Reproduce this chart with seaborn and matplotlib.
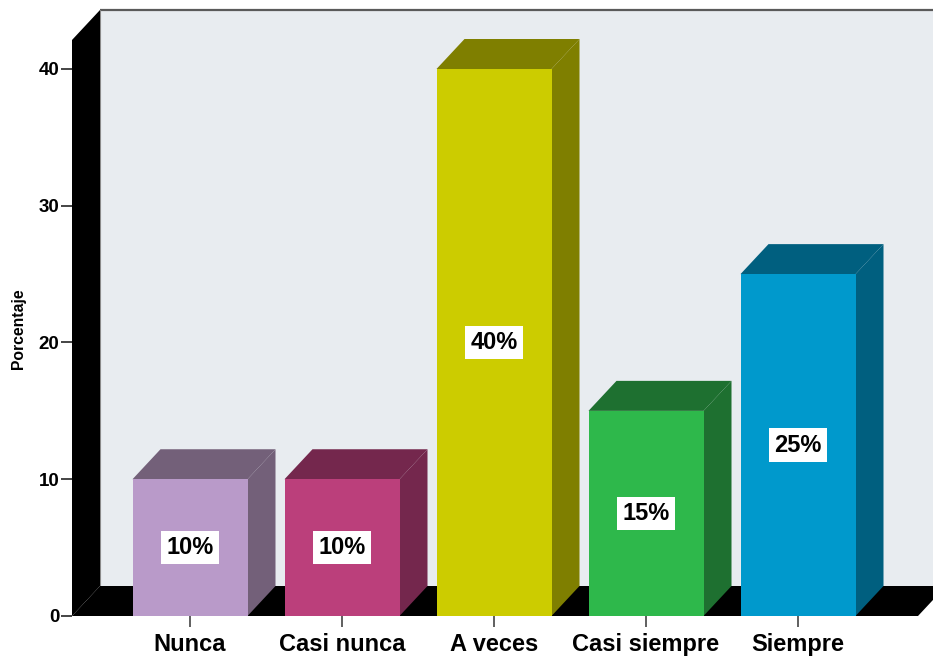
import matplotlib
matplotlib.use("Agg")
import matplotlib.pyplot as plt
from matplotlib.patches import Polygon, Rectangle
import seaborn as sns

# Survey responses (percent of respondents)
categories = ["Nunca", "Casi nunca", "A veces", "Casi siempre", "Siempre"]
values = [10, 10, 40, 15, 25]
value_labels = ["10%", "10%", "40%", "15%", "25%"]
front_colors = ["#B99AC9", "#BB3F7B", "#CCCC00", "#2EB84B", "#0099CC"]
shade_colors = ["#736079", "#74274D", "#7F7F00", "#1E7030", "#005F7F"]
y_ticks = [0, 10, 20, 30, 40]

sns.set_style("white")
plt.rcParams["font.family"] = ["Liberation Sans", "DejaVu Sans"]
plt.rcParams["text.color"] = "black"
plt.rcParams["xtick.color"] = "black"
plt.rcParams["ytick.color"] = "black"

W, H = 933, 656
fig = plt.figure(figsize=(W / 100, H / 100), dpi=100)
fig.patch.set_facecolor("white")

# axes placement in pixels: left edge of the plot frame and baseline
px_left, px_top, px_base = 72, 10, 616
ax = fig.add_axes([px_left / W, (H - px_base) / H, (W - px_left) / W, (px_base - px_top) / H])
ax.set_facecolor("white")

px_per_unit_y = 13.675
px_per_cat = 152.0
x0_px = 190.0
xmin = (px_left - x0_px) / px_per_cat
xmax = (W - x0_px) / px_per_cat
ymax = (px_base - px_top) / px_per_unit_y

# 3-D depth offset
dx = 28 / px_per_cat
dy = 30 / px_per_unit_y

# front faces
bar_w = 115 / px_per_cat
sns.barplot(x=categories, y=values, hue=categories, palette=front_colors,
            width=bar_w, legend=False, ax=ax, zorder=3, saturation=1,
            edgecolor="none")
bars = [p for c in ax.containers for p in c]

ax.set_xlim(xmin, xmax)
ax.set_ylim(0, ymax)

# back wall
ax.add_patch(Rectangle((xmin + dx, dy), xmax - xmin + 1, ymax - dy,
                       facecolor="#E8ECF0", edgecolor="none", zorder=0))
ax.plot([xmin + dx, xmax + 1], [ymax, ymax], color="#5A5A5A", lw=1.6,
        zorder=1, clip_on=False, solid_capstyle="butt")
ax.plot([xmin + dx, xmin + dx], [dy, ymax], color="#8A8A8A", lw=0.8, zorder=1)

# side wall and floor
ax.add_patch(Polygon([(xmin, 0), (xmin, ymax - dy), (xmin + dx, ymax), (xmin + dx, dy)],
                     closed=True, facecolor="black", edgecolor="none", zorder=1))
floor_end = (918 - x0_px) / px_per_cat
ax.add_patch(Polygon([(xmin, 0), (floor_end, 0), (floor_end + dx, dy), (xmin + dx, dy)],
                     closed=True, facecolor="black", edgecolor="none", zorder=1))

for i, p in enumerate(bars):
    x, w, h = p.get_x(), p.get_width(), p.get_height()
    top = [(x, h), (x + dx, h + dy), (x + w + dx, h + dy), (x + w, h)]
    side = [(x + w, 0), (x + w + dx, dy), (x + w + dx, h + dy), (x + w, h)]
    ax.add_patch(Polygon(top, closed=True, facecolor=shade_colors[i],
                         edgecolor="none", zorder=2))
    ax.add_patch(Polygon(side, closed=True, facecolor=shade_colors[i],
                         edgecolor="none", zorder=2))
    ax.text(x + w / 2, h / 2, value_labels[i], ha="center", va="center",
            fontsize=17, fontweight="bold", color="black", zorder=5,
            bbox=dict(boxstyle="square,pad=0.22", facecolor="white",
                      edgecolor="none"))

for s in ax.spines.values():
    s.set_visible(False)

ax.set_yticks(y_ticks)
ax.set_yticklabels([str(t) for t in y_ticks], fontsize=13.5, fontweight="bold")
ax.tick_params(axis="y", left=True, length=8, width=1.4, color="#444444", pad=1)
ax.tick_params(axis="x", bottom=True, length=8, width=1.2, color="#444444",
               labelsize=17, pad=4)
for lbl in ax.get_xticklabels():
    lbl.set_fontweight("bold")
ax.set_xlabel("")
ax.set_ylabel("")
fig.text(19 / W, 1 - 329 / H, "Porcentaje", rotation=90, ha="center",
         va="center", fontsize=11.3, fontweight="bold")

fig.savefig("out.png", dpi=100, facecolor="white")
